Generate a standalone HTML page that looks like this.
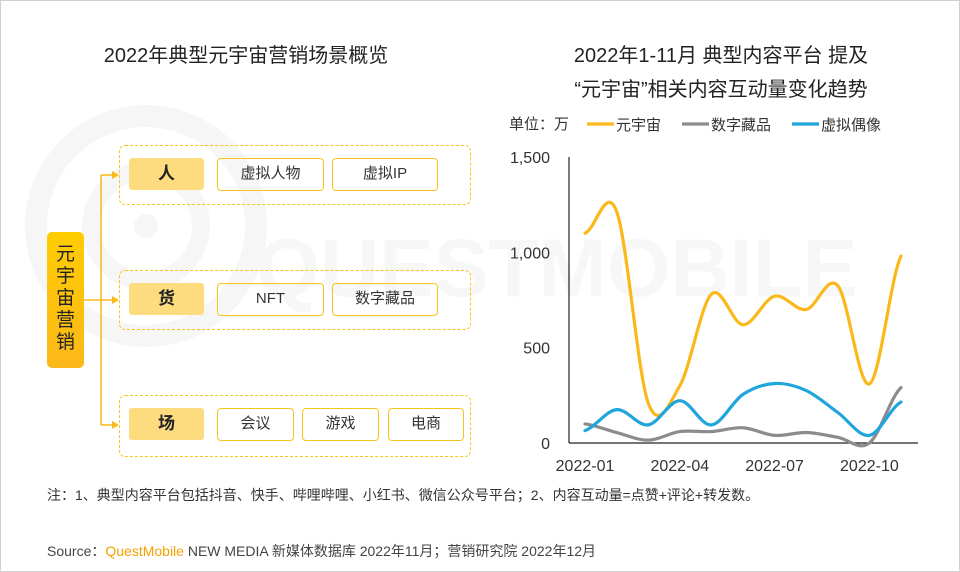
<!DOCTYPE html>
<html><head><meta charset="utf-8">
<style>
body{margin:0;width:960px;height:572px;overflow:hidden;background:#fff;font-family:"Liberation Sans","Noto Sans CJK SC",sans-serif;}
#root{position:relative;width:958px;height:570px;border:1px solid #d0d0d0;overflow:hidden;}
.abs{position:absolute;}
.title{font-size:20px;color:#222;text-align:center;}
.cat{position:absolute;left:128px;width:75px;height:32px;background:#fddc80;border-radius:3px;font-size:17px;font-weight:bold;color:#222;text-align:center;line-height:32px;}
.item{position:absolute;height:33px;border:1.5px solid #f8c51a;border-radius:4px;box-sizing:border-box;font-size:15px;color:#333;text-align:center;line-height:30px;}
.grp{position:absolute;left:118px;width:352px;height:60px;border:1.5px dashed #f8c51a;border-radius:6px;box-sizing:border-box;}
.txt{font-size:14px;color:#333;}
</style></head><body>
<div id="root">
<svg class="abs" style="left:0;top:0" width="960" height="572">
 <circle cx="145" cy="225" r="110" fill="none" stroke="#f6f6f6" stroke-width="22"/>
 <circle cx="145" cy="225" r="55" fill="none" stroke="#f6f6f6" stroke-width="18"/>
 <circle cx="145" cy="225" r="12" fill="#f6f6f6"/>
 <text x="255" y="295" font-size="82" font-family="Liberation Sans" fill="#f7f7f7" font-weight="bold">QUESTMOBILE</text>
</svg>
<div class="abs title" style="left:60px;top:38px;width:370px">2022年典型元宇宙营销场景概览</div>
<div class="abs title" style="left:520px;top:38px;width:400px;line-height:34px">2022年1-11月 典型内容平台 提及<br>“元宇宙”相关内容互动量变化趋势</div>

<div class="abs" style="left:46px;top:231px;width:37px;height:136px;border-radius:5px;background:linear-gradient(#ffcc00,#fbb81a);font-size:19px;line-height:22px;text-align:center;padding-top:12px;box-sizing:border-box;color:#222">元<br>宇<br>宙<br>营<br>销</div>
<svg class="abs" style="left:0;top:0" width="130" height="572">
 <g stroke="#fbb81a" stroke-width="1.5" fill="none">
  <path d="M83 299 H116"/><path d="M100 174 V424"/><path d="M100 174 H114"/><path d="M100 424 H114"/>
 </g>
 <g fill="#fbb81a"><path d="M118 174 l-7 -4 v8z"/><path d="M118 299 l-7 -4 v8z"/><path d="M118 424 l-7 -4 v8z"/></g>
</svg>

<div class="grp" style="top:144px"></div>
<div class="cat" style="top:157px">人</div>
<div class="item" style="left:216px;top:157px;width:107px">虚拟人物</div>
<div class="item" style="left:331px;top:157px;width:106px">虚拟IP</div>

<div class="grp" style="top:269px"></div>
<div class="cat" style="top:282px">货</div>
<div class="item" style="left:216px;top:282px;width:107px">NFT</div>
<div class="item" style="left:331px;top:282px;width:106px">数字藏品</div>

<div class="grp" style="top:394px;height:62px"></div>
<div class="cat" style="top:407px">场</div>
<div class="item" style="left:216px;top:407px;width:77px">会议</div>
<div class="item" style="left:301px;top:407px;width:77px">游戏</div>
<div class="item" style="left:387px;top:407px;width:76px">电商</div>

<svg id="chart" class="abs" style="left:0;top:0" width="960" height="572"></svg>

<div class="abs txt" style="left:46px;top:484px">注：1、典型内容平台包括抖音、快手、哔哩哔哩、小红书、微信公众号平台；2、内容互动量=点赞+评论+转发数。</div>
<div class="abs txt" style="left:46px;top:540px;color:#444">Source：<span style="color:#f5a000">QuestMobile</span> NEW MEDIA 新媒体数据库 2022年11月；营销研究院 2022年12月</div>
</div>
<script>
const months = ["2022-01","2022-02","2022-03","2022-04","2022-05","2022-06","2022-07","2022-08","2022-09","2022-10","2022-11"];
const tickLabels = ["2022-01","2022-04","2022-07","2022-10"];
const yTicks = [0,500,1000,1500];
const seriesNames = ["元宇宙","数字藏品","虚拟偶像"];
const metaverse = [1100,1215,210,300,780,620,770,700,825,310,980];
const collectibles = [100,55,15,60,60,80,40,55,30,0,290];
const idols = [65,175,95,222,95,255,312,275,160,40,215];
const NS="http://www.w3.org/2000/svg";
const svg=document.getElementById('chart');
const x0=584, dx=31.6, y0=442, yk=(442-156)/1500;
const X=i=>x0+i*dx, Y=v=>y0-v*yk;
function mk(t,a,p){const e=document.createElementNS(NS,t);for(const k in a)e.setAttribute(k,a[k]);(p||svg).appendChild(e);return e;}
const yl=mk('line',{x1:568,y1:156,x2:568,y2:442,stroke:'#222','stroke-width':1.2});


const xl=mk('line',{x1:568,y1:442,x2:917,y2:442,stroke:'#222','stroke-width':1.2});


yTicks.forEach(v=>{const t=mk('text',{x:549,y:Y(v)+6,'text-anchor':'end','font-size':16,fill:'#333','font-family':'Liberation Sans'});t.textContent=v.toLocaleString('en-US');

});
tickLabels.forEach(l=>{const i=months.indexOf(l);const t=mk('text',{x:X(i),y:470,'text-anchor':'middle','font-size':16,fill:'#333','font-family':'Liberation Sans'});t.textContent=l;

});
function path(d){let p=`M${X(0)},${Y(d[0])}`;for(let i=0;i<d.length-1;i++){const p0=d[Math.max(i-1,0)],p1=d[i],p2=d[i+1],p3=d[Math.min(i+2,d.length-1)];
const c1x=X(i)+dx/3,c1y=Y(p1)+(Y(p2)-Y(p0))/6,c2x=X(i+1)-dx/3,c2y=Y(p2)-(Y(p3)-Y(p1))/6;p+=` C${c1x},${c1y} ${c2x},${c2y} ${X(i+1)},${Y(p2)}`;}return p;}
const colors=["#fbb81a","#8c8c8c","#1fa5db"];
[metaverse,collectibles,idols].forEach((d,k)=>{const e=mk('path',{d:path(d),fill:'none',stroke:colors[k],'stroke-width':3.2,'stroke-linecap':'round'});

});
const u=mk('text',{x:508,y:128,'font-size':15,fill:'#333'});u.textContent='单位：万';


const lx=[586,681,791];
seriesNames.forEach((n,k)=>{const g=mk('g',{});


mk('line',{x1:lx[k],y1:123,x2:lx[k]+27,y2:123,stroke:colors[k],'stroke-width':3.2},g);
const t=mk('text',{x:lx[k]+29,y:129,'font-size':15,fill:'#333'},g);t.textContent=n;});
</script>
</body></html>
